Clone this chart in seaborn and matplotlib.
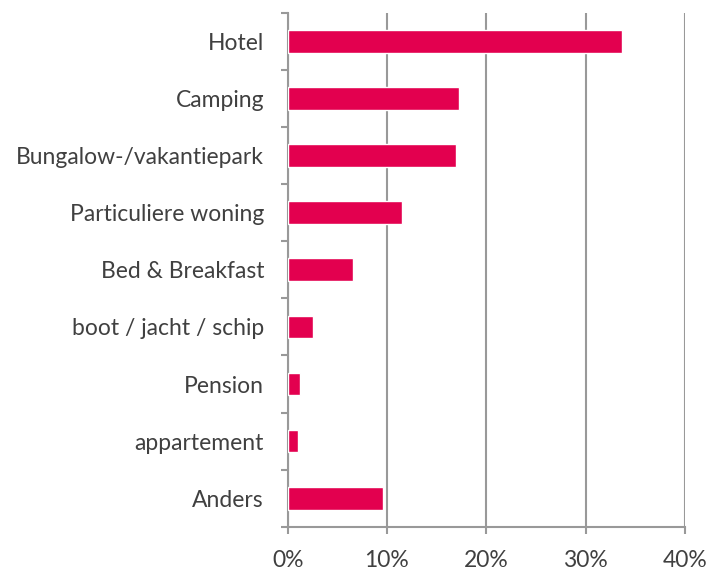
import matplotlib
matplotlib.use("Agg")
import matplotlib.pyplot as plt
import seaborn as sns
import pandas as pd
from matplotlib.ticker import FixedLocator, PercentFormatter

# values (percent)
categories = ['Hotel', 'Camping', 'Bungalow-/vakantiepark', 'Particuliere woning',
              'Bed & Breakfast', 'boot / jacht / schip', 'Pension', 'appartement', 'Anders']
shares = [33.7, 17.3, 16.9, 11.5, 6.6, 2.6, 1.2, 1.0, 9.6]
x_ticks = [0, 10, 20, 30, 40]

df = pd.DataFrame({'type': categories, 'share': shares})

sns.set_style('white')
plt.rcParams['font.family'] = ['Lato', 'DejaVu Sans']

grey = '#999999'
text_col = '#404040'

fig = plt.figure(figsize=(7.12, 5.70), dpi=100)
ax = fig.add_axes([0.404, 0.076, 0.558, 0.901])

sns.barplot(data=df, x='share', y='type', color='#E3004F', width=0.4,
            saturation=1, ax=ax, zorder=3)

ax.set_xlim(0, 40)
ax.set_ylim(len(categories) - 0.5, -0.5)
ax.xaxis.set_major_locator(FixedLocator(x_ticks))
ax.xaxis.set_major_formatter(PercentFormatter(decimals=0))
ax.grid(axis='x', color=grey, linewidth=1.5, zorder=0)
ax.grid(axis='y', visible=False)

# y ticks sit between the categories
ax.yaxis.set_minor_locator(FixedLocator([i - 0.5 for i in range(len(categories) + 1)]))
ax.tick_params(axis='y', which='major', length=0, pad=17, labelsize=16.5, labelcolor=text_col)
ax.tick_params(axis='y', which='minor', length=5, width=1.5, color=grey, left=True)
ax.tick_params(axis='x', which='major', length=5, width=1.5, color=grey, bottom=True,
               pad=12, labelsize=16.5, labelcolor=text_col)

for side in ['top', 'right']:
    ax.spines[side].set_visible(False)
for side in ['left', 'bottom']:
    ax.spines[side].set_color(grey)
    ax.spines[side].set_linewidth(1.5)

ax.set_xlabel('')
ax.set_ylabel('')

plt.savefig('out.png', dpi=100)
